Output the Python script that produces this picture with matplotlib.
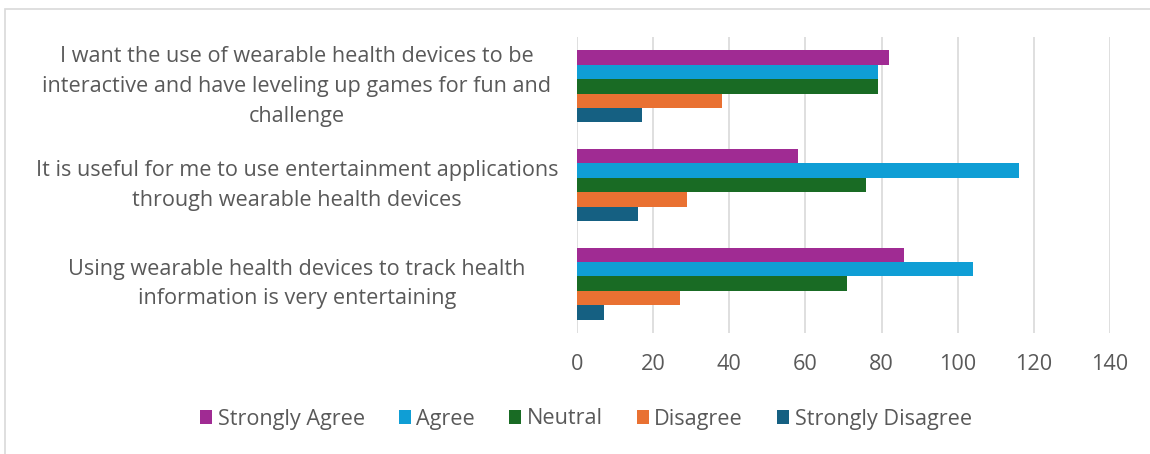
import matplotlib.pyplot as plt
from matplotlib.patches import Rectangle, Patch
from matplotlib.transforms import ScaledTranslation
import numpy as np

plt.rcParams['font.family'] = ['Open Sans', 'DejaVu Sans']

# survey statements, top to bottom
statements = [
    "I want the use of wearable health devices to be\ninteractive and have leveling up games for fun and\nchallenge",
    "It is useful for me to use entertainment applications\nthrough wearable health devices",
    "Using wearable health devices to track health\ninformation is very entertaining",
]
series = ["Strongly Agree", "Agree", "Neutral", "Disagree", "Strongly Disagree"]
strongly_agree = [82, 58, 86]
agree = [79, 116, 104]
neutral = [79, 76, 71]
disagree = [38, 29, 27]
strongly_disagree = [17, 16, 7]
xticks = [0, 20, 40, 60, 80, 100, 120, 140]

colors = ["#A02B93", "#0F9ED5", "#196B24", "#E97132", "#156082"]
text_col = "#595959"
fs = 15.6

fig = plt.figure(figsize=(11.5, 4.54), dpi=100)
ax = fig.add_axes([577 / 1150, 1 - 333 / 454, 533 / 1150, 296 / 454])

# outer chart frame
fig.patches.append(Rectangle((5 / 1150, -0.1), 1.2, 1 - 9 / 454 + 0.1,
                             transform=fig.transFigure, fill=False,
                             edgecolor="#D9D9D9", linewidth=1.2))

values = [strongly_agree, agree, neutral, disagree, strongly_disagree]
n = len(statements)
ypos = np.arange(n)[::-1]  # first statement at the top
bh = 0.733 / len(series)
for i, (vals, c) in enumerate(zip(values, colors)):
    offs = (2 - i) * bh
    ax.barh(ypos + offs, vals, height=bh, color=c, label=series[i], zorder=3)

ax.set_xlim(0, 140)
ax.set_ylim(-0.5, n - 0.5)
ax.set_xticks(xticks)
ax.xaxis.grid(True, color="#D9D9D9", linewidth=1.2, zorder=0)
ax.tick_params(axis="x", length=0, pad=15, labelsize=fs, labelcolor=text_col)
for s in ax.spines.values():
    s.set_visible(False)

ax.set_yticks(ypos)
ax.set_yticklabels(statements, ha="center", multialignment="center",
                   fontsize=fs, color=text_col, linespacing=1.55)
ax.tick_params(axis="y", length=0, pad=(577 - 297) * 72 / 100)
# nudge the wrapped statements up a little
shift = ScaledTranslation(0, 0.065, fig.dpi_scale_trans)
for lab in ax.get_yticklabels():
    lab.set_transform(lab.get_transform() + shift)

handles = [Patch(facecolor=c, label=s) for c, s in zip(colors, series)]
fig.legend(handles=handles, loc="center", bbox_to_anchor=(586 / 1150, 1 - 419 / 454),
           ncol=5, frameon=False, fontsize=fs, labelcolor=text_col,
           handlelength=0.55, handleheight=0.6, handletextpad=0.25, columnspacing=1.58)

fig.savefig("out.png", dpi=100, facecolor="white")
